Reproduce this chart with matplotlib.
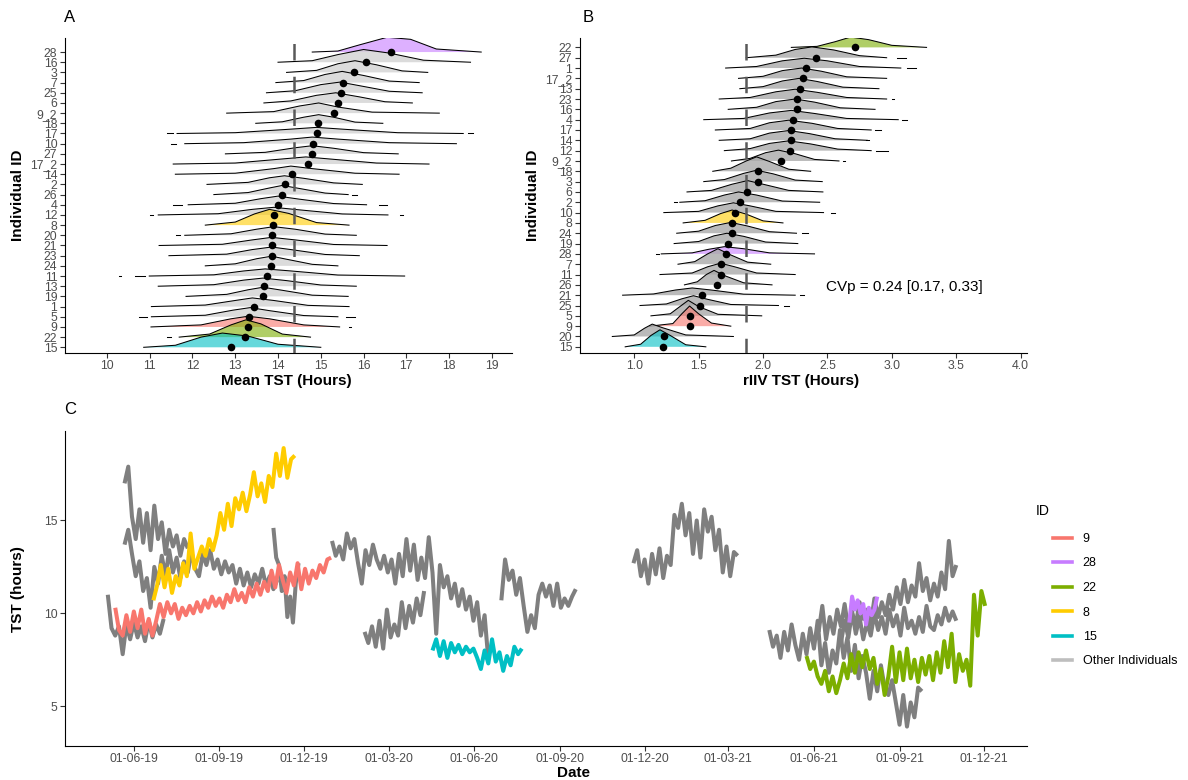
import matplotlib
matplotlib.use('Agg')
import matplotlib.pyplot as plt
import matplotlib.dates as mdates
from matplotlib.lines import Line2D
import numpy as np
import pandas as pd

plt.rcParams['font.family'] = ['Liberation Sans', 'DejaVu Sans']

# colours of the highlighted individuals
id_colors = {'9': '#F8766D', '28': '#C77CFF', '22': '#7CAE00', '8': '#FFCC00', '15': '#00BFC4'}

# ---------------- panel A : mean TST, rows listed top -> bottom
a_ids = ['28', '16', '3', '7', '25', '6', '9_2', '18', '17', '10', '27', '17_2', '14', '2', '26',
         '4', '12', '8', '20', '21', '23', '24', '11', '13', '19', '1', '5', '9', '22', '15']
a_means = [16.65, 16.05, 15.77, 15.51, 15.47, 15.40, 15.30, 14.93, 14.91, 14.82, 14.80, 14.70, 14.33, 14.16, 14.10,
           14.00, 13.91, 13.89, 13.87, 13.86, 13.85, 13.84, 13.74, 13.68, 13.66, 13.44, 13.33, 13.30, 13.22, 12.91]
a_x = [
    [14.8, 15.4, 15.9, 16.55, 17.1, 17.7, 18.75],
    [14.0, 14.8, 15.4, 16.0, 16.6, 17.4, 18.5],
    [14.2, 14.9, 15.4, 15.8, 16.3, 16.9, 17.5],
    [13.95, 14.6, 15.1, 15.5, 16.0, 16.6, 17.3],
    [13.73, 14.4, 15.0, 15.45, 15.9, 16.6, 17.37],
    [13.67, 14.3, 14.9, 15.35, 15.9, 16.5, 17.14],
    [12.8, 13.9, 14.5, 14.95, 15.4, 16.2, 17.77],
    [13.48, 14.1, 14.6, 14.95, 15.3, 15.8, 16.45],
    [11.64, 13.0, 14.2, 14.9, 15.6, 16.8, 18.33],
    [11.82, 13.2, 14.3, 14.8, 15.4, 16.6, 18.17],
    [12.77, 13.7, 14.4, 14.8, 15.3, 16.0, 16.81],
    [11.55, 13.0, 14.1, 14.65, 15.2, 16.3, 17.53],
    [11.6, 13.0, 13.9, 14.3, 14.8, 15.8, 16.83],
    [12.34, 13.3, 13.8, 14.15, 14.6, 15.3, 15.97],
    [12.5, 13.3, 13.8, 14.1, 14.5, 15.1, 15.64],
    [11.9, 13.0, 13.6, 14.0, 14.5, 15.3, 16.07],
    [11.2, 12.6, 13.4, 13.9, 14.5, 15.5, 16.57],
    [12.3, 13.0, 13.45, 13.8, 14.25, 14.9, 15.66],
    [11.82, 12.9, 13.5, 13.9, 14.4, 15.1, 15.83],
    [11.22, 12.7, 13.4, 13.85, 14.4, 15.3, 16.55],
    [11.45, 12.8, 13.4, 13.85, 14.3, 15.1, 15.9],
    [12.3, 13.0, 13.5, 13.85, 14.2, 14.8, 15.4],
    [10.99, 12.5, 13.2, 13.7, 14.3, 15.4, 16.96],
    [11.2, 12.5, 13.2, 13.65, 14.2, 15.0, 15.83],
    [11.85, 12.8, 13.3, 13.65, 14.1, 14.8, 15.64],
    [11.04, 12.3, 13.0, 13.4, 13.9, 14.7, 15.66],
    [11.04, 12.3, 12.95, 13.35, 13.8, 14.6, 15.4],
    [11.03, 12.2, 12.9, 13.3, 13.8, 14.6, 15.44],
    [11.69, 12.4, 12.9, 13.25, 13.6, 14.1, 14.76],
    [10.86, 11.6, 12.2, 12.7, 13.3, 14.0, 15.0],
]
a_h = [
    [0, 0.1, 0.7, 1.45, 1.25, 0.3, 0],
    [0, 0.15, 0.75, 1.25, 0.9, 0.2, 0],
    [0, 0.2, 0.85, 1.15, 0.75, 0.15, 0],
    [0, 0.2, 0.8, 1.1, 0.7, 0.15, 0],
    [0, 0.2, 0.8, 1.05, 0.7, 0.15, 0],
    [0, 0.2, 0.75, 1.0, 0.6, 0.12, 0],
    [0, 0.15, 0.7, 1.0, 0.6, 0.1, 0],
    [0, 0.15, 0.6, 0.85, 0.6, 0.12, 0],
    [0, 0.08, 0.4, 0.6, 0.4, 0.08, 0],
    [0, 0.1, 0.45, 0.65, 0.45, 0.1, 0],
    [0, 0.15, 0.6, 0.8, 0.55, 0.12, 0],
    [0, 0.1, 0.5, 0.7, 0.5, 0.1, 0],
    [0, 0.1, 0.55, 0.8, 0.55, 0.1, 0],
    [0, 0.2, 0.65, 0.85, 0.6, 0.15, 0],
    [0, 0.2, 0.65, 0.9, 0.6, 0.15, 0],
    [0, 0.15, 0.6, 0.85, 0.55, 0.12, 0],
    [0, 0.12, 0.55, 0.75, 0.5, 0.1, 0],
    [0, 0.3, 1.1, 1.55, 1.15, 0.25, 0],
    [0, 0.15, 0.6, 0.85, 0.6, 0.12, 0],
    [0, 0.12, 0.55, 0.8, 0.55, 0.1, 0],
    [0, 0.15, 0.6, 0.85, 0.6, 0.12, 0],
    [0, 0.2, 0.7, 0.95, 0.65, 0.15, 0],
    [0, 0.12, 0.5, 0.7, 0.5, 0.1, 0],
    [0, 0.15, 0.6, 0.8, 0.55, 0.12, 0],
    [0, 0.2, 0.65, 0.9, 0.6, 0.12, 0],
    [0, 0.15, 0.6, 0.85, 0.6, 0.12, 0],
    [0, 0.15, 0.65, 0.9, 0.6, 0.12, 0],
    [0, 0.2, 0.8, 1.05, 0.8, 0.2, 0],
    [0, 0.3, 1.2, 1.7, 1.3, 0.3, 0],
    [0, 0.2, 1.0, 1.4, 1.1, 0.3, 0],
]
a_tails = [('17', 11.40, 11.54), ('17', 18.45, 18.55), ('10', 11.50, 11.62), ('26', 15.72, 15.85),
           ('4', 11.54, 11.76), ('4', 16.37, 16.54), ('12', 11.00, 11.08), ('12', 16.85, 16.93),
           ('20', 11.62, 11.71), ('11', 10.29, 10.34), ('11', 10.65, 10.89), ('5', 10.76, 10.93),
           ('5', 15.60, 15.80), ('9', 15.66, 15.70), ('22', 11.40, 11.50)]
a_ref = 14.37

# ---------------- panel B : rIIV TST, rows listed top -> bottom
b_ids = ['22', '27', '1', '17_2', '13', '23', '16', '4', '17', '14', '12', '9_2', '18', '3', '6',
         '2', '10', '8', '24', '19', '28', '7', '11', '26', '21', '25', '5', '9', '20', '15']
b_means = [2.713, 2.408, 2.336, 2.308, 2.287, 2.264, 2.261, 2.233, 2.217, 2.215, 2.212, 2.142, 1.961, 1.961, 1.879,
           1.819, 1.786, 1.763, 1.757, 1.732, 1.711, 1.677, 1.672, 1.639, 1.525, 1.507, 1.434, 1.432, 1.230, 1.225]
b_x = [
    [2.22, 2.42, 2.56, 2.68, 2.82, 3.0, 3.27],
    [1.87, 2.1, 2.25, 2.38, 2.55, 2.75, 2.96],
    [1.71, 1.95, 2.15, 2.32, 2.5, 2.75, 3.07],
    [1.81, 2.0, 2.15, 2.3, 2.45, 2.65, 2.96],
    [1.82, 2.0, 2.15, 2.28, 2.42, 2.62, 2.9],
    [1.66, 1.9, 2.1, 2.25, 2.42, 2.65, 2.96],
    [1.73, 1.95, 2.1, 2.25, 2.4, 2.6, 2.87],
    [1.54, 1.85, 2.05, 2.22, 2.4, 2.65, 3.05],
    [1.63, 1.9, 2.05, 2.2, 2.38, 2.58, 2.84],
    [1.66, 1.9, 2.05, 2.2, 2.36, 2.56, 2.81],
    [1.70, 1.9, 2.05, 2.2, 2.37, 2.58, 2.84],
    [1.755, 1.9, 2.02, 2.12, 2.25, 2.4, 2.59],
    [1.61, 1.75, 1.87, 1.95, 2.05, 2.2, 2.37],
    [1.54, 1.7, 1.85, 1.95, 2.08, 2.25, 2.46],
    [1.41, 1.6, 1.76, 1.88, 2.0, 2.2, 2.465],
    [1.354, 1.55, 1.7, 1.81, 1.95, 2.15, 2.44],
    [1.23, 1.5, 1.65, 1.77, 1.9, 2.1, 2.47],
    [1.38, 1.55, 1.67, 1.76, 1.87, 2.0, 2.155],
    [1.33, 1.5, 1.63, 1.75, 1.88, 2.05, 2.26],
    [1.31, 1.5, 1.62, 1.72, 1.85, 2.02, 2.27],
    [1.21, 1.45, 1.58, 1.7, 1.85, 2.05, 2.40],
    [1.34, 1.47, 1.57, 1.65, 1.74, 1.88, 2.06],
    [1.20, 1.45, 1.57, 1.67, 1.78, 1.95, 2.25],
    [1.39, 1.49, 1.56, 1.62, 1.7, 1.85, 2.07],
    [0.91, 1.15, 1.32, 1.45, 1.6, 1.85, 2.25],
    [1.045, 1.25, 1.37, 1.46, 1.57, 1.75, 2.12],
    [1.13, 1.28, 1.36, 1.42, 1.5, 1.65, 1.99],
    [1.12, 1.3, 1.37, 1.43, 1.5, 1.6, 1.75],
    [0.83, 1.0, 1.08, 1.14, 1.22, 1.4, 1.77],
    [0.93, 1.05, 1.13, 1.2, 1.28, 1.4, 1.556],
]
b_h = [
    [0, 0.1, 0.55, 1.0, 0.75, 0.2, 0],
    [0, 0.25, 0.8, 1.05, 0.75, 0.2, 0],
    [0, 0.15, 0.7, 0.95, 0.7, 0.15, 0],
    [0, 0.2, 0.75, 1.0, 0.7, 0.15, 0],
    [0, 0.2, 0.75, 1.0, 0.7, 0.15, 0],
    [0, 0.15, 0.7, 0.95, 0.65, 0.15, 0],
    [0, 0.2, 0.75, 1.0, 0.7, 0.15, 0],
    [0, 0.12, 0.65, 0.9, 0.6, 0.12, 0],
    [0, 0.15, 0.7, 0.95, 0.65, 0.15, 0],
    [0, 0.15, 0.7, 0.95, 0.65, 0.15, 0],
    [0, 0.2, 0.7, 0.95, 0.65, 0.15, 0],
    [0, 0.25, 0.8, 1.05, 0.7, 0.15, 0],
    [0, 0.3, 1.0, 1.4, 0.95, 0.2, 0],
    [0, 0.2, 0.8, 1.1, 0.75, 0.15, 0],
    [0, 0.15, 0.75, 1.1, 0.75, 0.15, 0],
    [0, 0.15, 0.7, 1.0, 0.7, 0.12, 0],
    [0, 0.12, 0.65, 0.95, 0.65, 0.12, 0],
    [0, 0.25, 0.9, 1.25, 0.85, 0.2, 0],
    [0, 0.2, 0.75, 1.05, 0.7, 0.15, 0],
    [0, 0.2, 0.75, 1.0, 0.7, 0.15, 0],
    [0, 0.1, 0.45, 0.7, 0.5, 0.1, 0],
    [0, 0.25, 1.0, 1.5, 0.95, 0.2, 0],
    [0, 0.15, 0.75, 1.1, 0.75, 0.15, 0],
    [0, 0.3, 1.0, 1.4, 0.9, 0.2, 0],
    [0, 0.12, 0.5, 0.7, 0.5, 0.1, 0],
    [0, 0.15, 0.65, 0.95, 0.6, 0.1, 0],
    [0, 0.2, 0.95, 1.5, 0.9, 0.15, 0],
    [0, 0.25, 1.2, 1.95, 1.2, 0.3, 0],
    [0, 0.15, 0.8, 1.2, 0.85, 0.15, 0],
    [0, 0.25, 1.1, 1.65, 1.1, 0.2, 0],
]
b_tails = [('27', 3.04, 3.11), ('1', 3.12, 3.19), ('23', 3.00, 3.02), ('4', 3.08, 3.12), ('17', 2.87, 2.92),
           ('14', 2.80, 2.82), ('12', 2.88, 2.97), ('9_2', 2.62, 2.64), ('2', 1.31, 1.33), ('10', 2.53, 2.56),
           ('24', 2.30, 2.35), ('28', 1.17, 1.19), ('21', 2.29, 2.32), ('25', 2.16, 2.20)]
b_ref = 1.866
b_note = 'CVp = 0.24 [0.17, 0.33]'

# ---------------- panel C : daily TST series (start date, step in days, values)
c_9 = ('2019-05-12', 4, [10.3, 9.1, 8.8, 9.9, 9.0, 10.1, 9.2, 10.2, 8.9, 9.7,
                         8.8, 9.6, 10.5, 9.8, 10.6, 10.0, 10.5, 9.7, 10.3, 9.9,
                         10.4, 10.0, 10.6, 10.1, 10.7, 10.3, 10.9, 10.4, 10.8, 10.3,
                         11.0, 10.6, 11.3, 10.7, 11.1, 10.6, 11.4, 10.9, 11.6, 11.0,
                         11.7, 11.2, 12.3, 11.4, 12.6, 11.8, 11.1, 12.2, 11.5, 12.7,
                         11.3, 12.4, 11.6, 12.3, 11.9, 12.6, 12.2, 12.9, 13.0])
c_8 = ('2019-06-22', 4, [10.7, 11.5, 12.6, 11.4, 12.4, 11.1, 12.0, 11.5, 12.7, 12.0,
                         14.3, 12.4, 13.0, 13.6, 13.1, 14.0, 13.4, 14.2, 15.4, 14.5,
                         15.9, 14.7, 16.2, 15.6, 16.5, 15.5, 16.4, 17.6, 16.3, 17.0,
                         16.0, 17.4, 16.8, 18.6, 17.4, 18.9, 17.3, 18.3, 18.5])
c_15 = ('2020-04-17', 4, [8.0, 8.6, 7.7, 8.5, 7.6, 8.4, 7.9, 8.3, 7.8, 8.2, 7.9, 8.1, 7.6,
                          7.0, 8.0, 7.3, 8.6, 7.4, 7.9, 6.9, 7.7, 7.2, 8.2, 7.8, 8.1])
c_22 = ('2021-05-24', 4, [7.7, 7.0, 7.4, 6.6, 6.2, 6.9, 5.8, 6.6, 5.7, 6.4,
                          7.3, 6.5, 7.8, 6.8, 7.9, 7.1, 8.0, 7.0, 7.6, 6.2,
                          7.0, 5.6, 6.6, 8.2, 6.3, 7.9, 6.4, 8.1, 6.5, 7.5,
                          6.3, 7.6, 6.7, 7.7, 6.4, 7.9, 6.8, 8.5, 7.1, 8.9,
                          6.3, 7.8, 6.9, 7.5, 6.1, 11.0, 8.8, 11.2, 10.4])
c_28 = ('2021-07-09', 3, [9.5, 10.9, 10.2, 10.7, 10.0, 10.5, 9.4, 10.3, 9.9, 10.2, 10.9])

c_other = [
    ('2019-05-22', 4, [17.0, 17.9, 15.2, 14.0, 15.6, 13.8, 15.4, 13.4, 15.8, 14.0,
                       14.9, 13.2, 14.5, 13.6, 14.2, 13.1, 14.0, 13.5]),
    ('2019-05-22', 4, [13.7, 14.5, 13.2, 12.0, 12.8, 11.2, 11.9, 10.3, 12.5, 11.6,
                       13.1, 12.0, 13.4, 12.2, 13.0, 11.9, 12.8, 12.2, 13.3, 12.4,
                       12.0, 13.2, 12.6, 13.4, 12.4, 12.9, 12.1, 12.8, 12.2, 12.6,
                       11.6, 12.4, 11.5, 12.2, 11.4, 12.1, 11.6, 12.4, 11.5, 12.0,
                       11.3, 11.8]),
    ('2019-05-04', 4, [11.0, 9.2, 8.8, 9.3, 7.8, 9.4, 8.6, 9.5, 8.7, 9.3, 8.5, 9.6,
                       8.7, 9.4, 8.9, 9.7]),
    ('2019-10-29', 3, [14.6, 13.0, 12.6, 11.2, 12.0, 9.8, 10.9, 9.5, 11.6, 12.7]),
    ('2019-12-31', 4, [13.9, 13.1, 13.6, 12.9, 14.3, 13.5, 14.0, 12.7, 11.6, 13.4,
                       12.6, 13.7, 12.9, 12.4, 13.1, 12.2, 12.9, 11.6, 13.2, 12.0,
                       14.0, 12.3, 13.7, 11.8, 13.0, 11.9, 14.1, 12.2, 8.9, 12.6,
                       11.4, 12.0, 10.8, 11.6, 10.4, 11.3, 10.2, 10.9, 9.6, 10.6,
                       8.8, 9.9, 7.5]),
    ('2020-02-04', 4, [9.0, 8.4, 9.3, 8.2, 9.6, 8.1, 10.2, 8.7, 9.4, 8.8, 10.6, 9.2,
                       10.4, 9.5, 10.8, 9.9, 11.2]),
    ('2020-06-30', 4, [10.7, 12.9, 11.8, 12.3, 11.0, 11.9, 10.4, 9.0, 9.9, 9.2,
                       11.0, 11.6, 10.9, 11.5, 10.4, 11.6, 10.3, 10.8, 10.4, 10.9, 11.3]),
    ('2020-11-19', 4, [12.7, 13.4, 12.0, 12.9, 11.6, 13.2, 12.1, 13.5, 11.9, 13.1,
                       12.6, 15.3, 14.6, 15.9, 14.2, 15.4, 13.2, 15.0, 13.0, 15.6,
                       14.4, 15.2, 13.4, 14.5, 12.2, 13.6, 12.0, 13.3, 13.1]),
    ('2021-04-14', 4, [9.1, 8.2, 8.8, 7.6, 9.0, 8.0, 9.4, 8.3, 7.5, 8.9,
                       7.8, 9.2, 8.1, 9.6, 7.2, 8.4, 6.8, 8.0, 7.3, 9.1,
                       7.6, 8.7, 6.9, 8.3, 6.5, 7.7, 6.8, 5.4, 6.9, 5.8,
                       7.2, 6.0, 5.6, 6.4, 5.2, 4.0, 5.6, 3.9, 5.2, 4.4, 6.0, 5.8]),
    ('2021-06-06', 4, [9.0, 10.4, 8.6, 9.8, 8.9, 10.2, 9.3, 10.5, 9.1, 10.0,
                       9.4, 10.6, 9.7, 10.2, 9.4, 10.8, 9.8, 10.6, 9.9, 11.0,
                       10.2, 11.4, 10.5, 11.8, 10.6, 11.5, 10.9, 12.7, 11.2, 11.9,
                       10.7, 11.6, 10.9, 12.2, 11.3, 13.9, 12.0, 12.6]),
    ('2021-06-30', 4, [8.4, 9.6, 8.7, 10.1, 8.9, 9.8, 8.6, 9.5, 8.8, 10.0,
                       9.1, 9.8, 8.9, 10.2, 9.3, 9.9, 8.8, 10.3, 9.2, 9.6,
                       8.9, 9.8, 9.0, 10.4, 9.3, 9.1, 9.9, 9.4, 10.3, 9.6, 10.1, 9.6]),
]
c_highlight = [('9', c_9), ('28', c_28), ('22', c_22), ('8', c_8), ('15', c_15)]
c_ticks = pd.date_range('2019-06-01', '2021-12-01', freq='3MS')


def series_dates(start, step, values):
    return pd.date_range(start, periods=len(values), freq=f'{step}D')


def style(ax):
    for s in ['top', 'right']:
        ax.spines[s].set_visible(False)
    for s in ['left', 'bottom']:
        ax.spines[s].set_linewidth(0.8)
    ax.tick_params(length=3.5, width=0.8, color='#333333', labelcolor='#4D4D4D', labelsize=8.8, pad=2)


def draw_ridges(ax, ids, means, xs, hs, tails, grey, ref):
    n = len(ids)
    base = {}
    for i, rid in enumerate(ids):
        y0 = n - i
        base[rid] = y0
        top = y0 + np.array(hs[i])
        if rid in id_colors:
            ax.fill_between(xs[i], y0, top, facecolor=id_colors[rid], alpha=0.6, lw=0, zorder=2)
        else:
            ax.fill_between(xs[i], y0, top, facecolor=grey, alpha=0.8, lw=0, zorder=2)
        ax.plot(xs[i], top, color='black', lw=0.75, zorder=2)
    for rid, x0, x1 in tails:
        ax.plot([x0, x1], [base[rid], base[rid]], color='black', lw=0.75, zorder=2)
    ax.axvline(ref, color='#595959', lw=1.8, linestyle=(0.7, (6.6, 6.5)), zorder=3)
    ax.scatter(means, [base[r] for r in ids], s=30, color='black', zorder=5, linewidths=0)
    ax.set_yticks(range(1, n + 1))
    ax.set_yticklabels(ids[::-1])
    style(ax)


W, H = 1188, 780
fig = plt.figure(figsize=(11.88, 7.8), dpi=100)


def px_rect(l, t, r, b):
    return [l / W, 1 - b / H, (r - l) / W, (b - t) / H]


ax_a = fig.add_axes(px_rect(65, 38, 512, 352.7))
ax_b = fig.add_axes(px_rect(580, 38, 1027, 352.7))
ax_c = fig.add_axes(px_rect(65, 431, 1027, 745.7))

# panel A
draw_ridges(ax_a, a_ids, a_means, a_x, a_h, a_tails, '#D3D3D3', a_ref)
ax_a.set_xlim(9.02, 19.47)
ax_a.set_ylim(0.47, 31.38)
ax_a.set_xticks(range(10, 20))

# panel B
draw_ridges(ax_b, b_ids, b_means, b_x, b_h, b_tails, '#A9A9A9', b_ref)
ax_b.set_xlim(0.579, 4.05)
ax_b.set_ylim(0.43, 30.91)
ax_b.set_xticks([1.0, 1.5, 2.0, 2.5, 3.0, 3.5, 4.0])
ax_b.set_xticklabels(['1.0', '1.5', '2.0', '2.5', '3.0', '3.5', '4.0'])
ax_b.text(2.486, 6.8, b_note, ha='left', va='center', fontsize=11, color='black')

# panel C
for start, step, vals in c_other:
    ax_c.plot(series_dates(start, step, vals), vals, color='#7F7F7F', lw=2.9,
              solid_joinstyle='round', solid_capstyle='butt', zorder=2)
for rid, (start, step, vals) in c_highlight:
    ax_c.plot(series_dates(start, step, vals), vals, color=id_colors[rid], lw=2.9,
              solid_joinstyle='round', solid_capstyle='butt', zorder=3)
ax_c.set_xlim(pd.Timestamp('2019-03-19'), pd.Timestamp('2022-01-16'))
ax_c.set_ylim(2.87, 19.82)
ax_c.set_yticks([5, 10, 15])
ax_c.set_xticks(c_ticks)
ax_c.xaxis.set_major_formatter(mdates.DateFormatter('%d-%m-%y'))
style(ax_c)

handles = [Line2D([0], [0], color=id_colors[r], lw=2.6) for r, _ in c_highlight]
handles.append(Line2D([0], [0], color='#BEBEBE', lw=2.6))
labels = [r for r, _ in c_highlight] + ['Other Individuals']
ax_c.legend(handles, labels, loc='upper left', bbox_to_anchor=(1053 / W, 1 - 533 / H),
            bbox_transform=fig.transFigure, frameon=False, fontsize=9, handlelength=1.5,
            handletextpad=0.88, labelspacing=1.0, borderpad=0, borderaxespad=0)
fig.text(1036 / W, 1 - 511 / H, 'ID', fontsize=10, ha='left', va='center')

# panel letters and axis titles
fig.text(70 / W, 1 - 18 / H, 'A', fontsize=12, ha='center', va='center')
fig.text(588 / W, 1 - 18 / H, 'B', fontsize=12, ha='center', va='center')
fig.text(70 / W, 1 - 410 / H, 'C', fontsize=12, ha='center', va='center')
bold = dict(fontsize=11, fontweight='bold', ha='center', va='center')
fig.text(286 / W, 1 - 381 / H, 'Mean TST (Hours)', **bold)
fig.text(801 / W, 1 - 381 / H, 'rIIV TST (Hours)', **bold)
fig.text(18 / W, 1 - 195 / H, 'Individual ID', rotation=90, **bold)
fig.text(533 / W, 1 - 195 / H, 'Individual ID', rotation=90, **bold)
fig.text(573 / W, 1 - 773 / H, 'Date', **bold)
fig.text(18 / W, 1 - 589 / H, 'TST (hours)', rotation=90, **bold)

fig.savefig('out.png', dpi=100)
